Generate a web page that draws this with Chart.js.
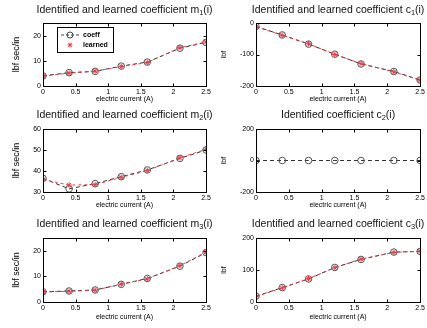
<!DOCTYPE html>
<html><head><meta charset="utf-8">
<script src="https://cdn.jsdelivr.net/npm/chart.js@4/dist/chart.umd.min.js"></script>
<style>
html,body{margin:0;padding:0;background:#fff;}
body{width:427px;height:328px;position:relative;overflow:hidden;}
canvas{position:absolute;}
</style></head>
<body>
<canvas id="p1"></canvas><canvas id="p2"></canvas><canvas id="p3"></canvas>
<canvas id="p4"></canvas><canvas id="p5"></canvas><canvas id="p6"></canvas>
<script>
// ---- data ----
const current = [0, 0.4, 0.8, 1.2, 1.6, 2.1, 2.5];
const xTicks = [0, 0.5, 1, 1.5, 2, 2.5];
const m1Coeff = [4.0, 5.3, 5.8, 7.9, 9.5, 15.0, 17.3];
const m1Learned = [3.9, 5.1, 5.9, 7.7, 9.3, 15.2, 17.5];
const c1Coeff = [-11, -38, -67, -99, -130, -154, -181];
const c1Learned = [-12, -39, -66, -100, -129, -155, -182];
const m2Coeff = [36.5, 31.5, 34.0, 37.3, 40.5, 46.0, 50.0];
const m2Learned = [36.0, 33.3, 33.5, 37.0, 40.2, 46.3, 50.3];
const c2Coeff = [0, 0, 0, 0, 0, 0, 0];
const m3Coeff = [4.0, 4.3, 4.7, 6.9, 9.2, 14.0, 19.3];
const m3Learned = [3.9, 4.2, 4.6, 7.0, 9.0, 14.2, 19.5];
const c3Coeff = [18, 45, 72, 108, 133, 156, 158];
const c3Learned = [17, 44, 73, 107, 134, 155, 159];
const legendLabels = ['coeff', 'learned'];

const FONT = '"Liberation Sans", Arial, Helvetica, sans-serif';
const pts = ys => current.map((x, i) => ({x, y: ys[i]}));

const framePlugin = {
  id: 'frame',
  afterDraw(chart, args, o) {
    const {ctx, chartArea: a} = chart;
    const xs = chart.scales.x, ys = chart.scales.y;
    ctx.save();
    ctx.strokeStyle = '#000'; ctx.lineWidth = 1;
    const L = Math.round(a.left) + 0.5, R = Math.round(a.right) + 0.5,
          T = Math.round(a.top) + 0.5, B = Math.round(a.bottom) + 0.5;
    ctx.strokeRect(L, T, R - L, B - T);
    ctx.beginPath();
    xs.ticks.forEach(t => {
      const px = Math.round(xs.getPixelForValue(t.value)) + 0.5;
      ctx.moveTo(px, B); ctx.lineTo(px, B - 3);
      ctx.moveTo(px, T); ctx.lineTo(px, T + 3);
    });
    ys.ticks.forEach(t => {
      const py = Math.round(ys.getPixelForValue(t.value)) + 0.5;
      ctx.moveTo(L, py); ctx.lineTo(L + 3, py);
      ctx.moveTo(R, py); ctx.lineTo(R - 3, py);
    });
    ctx.stroke();
    // title with subscript
    ctx.fillStyle = '#111';
    ctx.textBaseline = 'middle';
    const f1 = o.size + 'px ' + FONT, f2 = (o.size * 0.7) + 'px ' + FONT;
    ctx.font = f1; const w1 = ctx.measureText(o.pre).width, w3 = ctx.measureText(o.post).width;
    ctx.font = f2; const w2 = ctx.measureText(o.sub).width;
    let x = (a.left + a.right) / 2 - (w1 + w2 + w3) / 2;
    const y = a.top - o.offset;
    ctx.textAlign = 'left';
    ctx.font = f1; ctx.fillText(o.pre, x, y); x += w1;
    ctx.font = f2; ctx.fillText(o.sub, x, y + 3); x += w2;
    ctx.font = f1; ctx.fillText(o.post, x, y);
    // legend
    if (o.legend) {
      const lx = a.left + 14, ly = a.top + 4;
      ctx.strokeRect(lx + 0.5, ly + 0.5, 56, 25);
      ctx.strokeStyle = '#444';
      ctx.setLineDash([3, 2]);
      ctx.beginPath(); ctx.moveTo(lx + 4, ly + 8); ctx.lineTo(lx + 22, ly + 8); ctx.stroke();
      ctx.setLineDash([]);
      ctx.beginPath(); ctx.arc(lx + 13, ly + 8, 3, 0, Math.PI * 2); ctx.stroke();
      ctx.strokeStyle = '#e0404a';
      ctx.beginPath();
      const cx = lx + 13, cy = ly + 18;
      for (let k = 0; k < 4; k++) { const an = k * Math.PI / 4; ctx.moveTo(cx - 2.5 * Math.cos(an), cy - 2.5 * Math.sin(an)); ctx.lineTo(cx + 2.5 * Math.cos(an), cy + 2.5 * Math.sin(an)); }
      ctx.stroke();
      ctx.font = 'bold 7px ' + FONT; ctx.fillStyle = '#000';
      ctx.fillText(legendLabels[0], lx + 26, ly + 8);
      ctx.fillText(legendLabels[1], lx + 26, ly + 18);
    }
    ctx.restore();
  }
};

function makePanel(id, cfg) {
  const c = document.getElementById(id);
  c.width = cfg.W; c.height = cfg.H;
  c.style.left = cfg.X + 'px'; c.style.top = cfg.Y + 'px';
  c.style.width = cfg.W + 'px'; c.style.height = cfg.H + 'px';
  const pt = cfg.plotTop - cfg.Y;
  const xh = cfg.xlabY + 4.2 - cfg.plotBottom;
  const pb = cfg.H - (cfg.plotBottom - cfg.Y) - xh;
  const yw = cfg.plotLeft - cfg.X;
  const pr = cfg.X + cfg.W - cfg.plotRight;
  const datasets = [{
    label: legendLabels[0], data: pts(cfg.coeff), borderColor: '#333', backgroundColor: 'rgba(0,0,0,0)',
    borderWidth: 1, borderDash: [4, 3], pointStyle: 'circle', pointRadius: 3.3, pointBorderWidth: 1,
    pointBorderColor: '#555', pointBackgroundColor: 'rgba(0,0,0,0)', order: 2
  }];
  if (cfg.learned) datasets.push({
    label: legendLabels[1], data: pts(cfg.learned), borderColor: '#e0404a', backgroundColor: 'rgba(0,0,0,0)',
    borderWidth: 1, borderDash: [3, 3], pointStyle: 'star', pointRadius: 2.8, pointBorderWidth: 1,
    pointBorderColor: '#e0404a', order: 1
  });
  new Chart(c, {
    type: 'line',
    data: {datasets},
    options: {
      responsive: false, animation: false, devicePixelRatio: 1,
      layout: {padding: {top: pt, right: pr, bottom: pb, left: 0}},
      plugins: {legend: {display: false}, tooltip: {enabled: false},
        frame: {pre: cfg.title[0], sub: cfg.title[1], post: cfg.title[2], size: 10.5, offset: cfg.tOff, legend: !!cfg.legend}},
      scales: {
        x: {type: 'linear', min: 0, max: 2.5,
          afterBuildTicks: s => { s.ticks = xTicks.map(v => ({value: v})); },
          ticks: {font: {size: 7, family: FONT}, color: '#000', padding: 2, maxRotation: 0, autoSkip: false,
            callback: v => String(v)},
          grid: {display: false, drawTicks: false}, border: {display: false},
          title: {display: true, text: 'electric current (A)', font: {size: 7, family: FONT}, color: '#000', padding: 0},
          afterFit: s => { s.height = xh; }
        },
        y: {type: 'linear', min: cfg.ymin, max: cfg.ymax,
          afterBuildTicks: s => { s.ticks = cfg.yticks.map(v => ({value: v})); },
          ticks: {font: {size: 7, family: FONT}, color: '#000', padding: 2, autoSkip: false},
          grid: {display: false, drawTicks: false}, border: {display: false},
          title: {display: true, text: cfg.ylab, font: {size: cfg.ylabSize || 9, family: FONT}, color: '#000', padding: {top: cfg.ylabPad || 11, bottom: 0}},
          afterFit: s => { s.width = yw; }
        }
      }
    },
    plugins: [framePlugin]
  });
}

const colL = {X: 0, W: 213, plotLeft: 43, plotRight: 206};
const colR = {X: 213, W: 214, plotLeft: 256, plotRight: 421};
const row1 = {Y: 0, H: 105, plotTop: 23, plotBottom: 86, xlabY: 99, tOff: 13};
const row2 = {Y: 105, H: 105, plotTop: 129, plotBottom: 192, xlabY: 205, tOff: 14};
const row3 = {Y: 210, H: 118, plotTop: 238, plotBottom: 302, xlabY: 317, tOff: 14};

makePanel('p1', {...colL, ...row1, coeff: m1Coeff, learned: m1Learned, ymin: 0, ymax: 25, yticks: [0, 10, 20],
  ylab: 'lbf sec/in', title: ['Identified and learned coefficient m', '1', '(i)'], legend: true});
makePanel('p2', {...colR, ...row1, coeff: c1Coeff, learned: c1Learned, ymin: -200, ymax: 0, yticks: [-200, -100, 0],
  ylab: 'lbf', ylabSize: 7, ylabPad: 7, title: ['Identified and learned coefficient c', '1', '(i)']});
makePanel('p3', {...colL, ...row2, coeff: m2Coeff, learned: m2Learned, ymin: 30, ymax: 60, yticks: [30, 40, 50, 60],
  ylab: 'lbf sec/in', title: ['Identified and learned coefficient m', '2', '(i)']});
makePanel('p4', {...colR, ...row2, coeff: c2Coeff, ymin: -200, ymax: 200, yticks: [-200, 0, 200],
  ylab: 'lbf', ylabSize: 7, ylabPad: 7, title: ['Identified coefficient c', '2', '(i)']});
makePanel('p5', {...colL, ...row3, coeff: m3Coeff, learned: m3Learned, ymin: 0, ymax: 25, yticks: [0, 10, 20],
  ylab: 'lbf sec/in', title: ['Identified and learned coefficient m', '3', '(i)']});
makePanel('p6', {...colR, ...row3, coeff: c3Coeff, learned: c3Learned, ymin: 0, ymax: 200, yticks: [0, 100, 200],
  ylab: 'lbf', ylabSize: 7, ylabPad: 7, title: ['Identified and learned coefficient c', '3', '(i)']});
</script>
</body></html>
